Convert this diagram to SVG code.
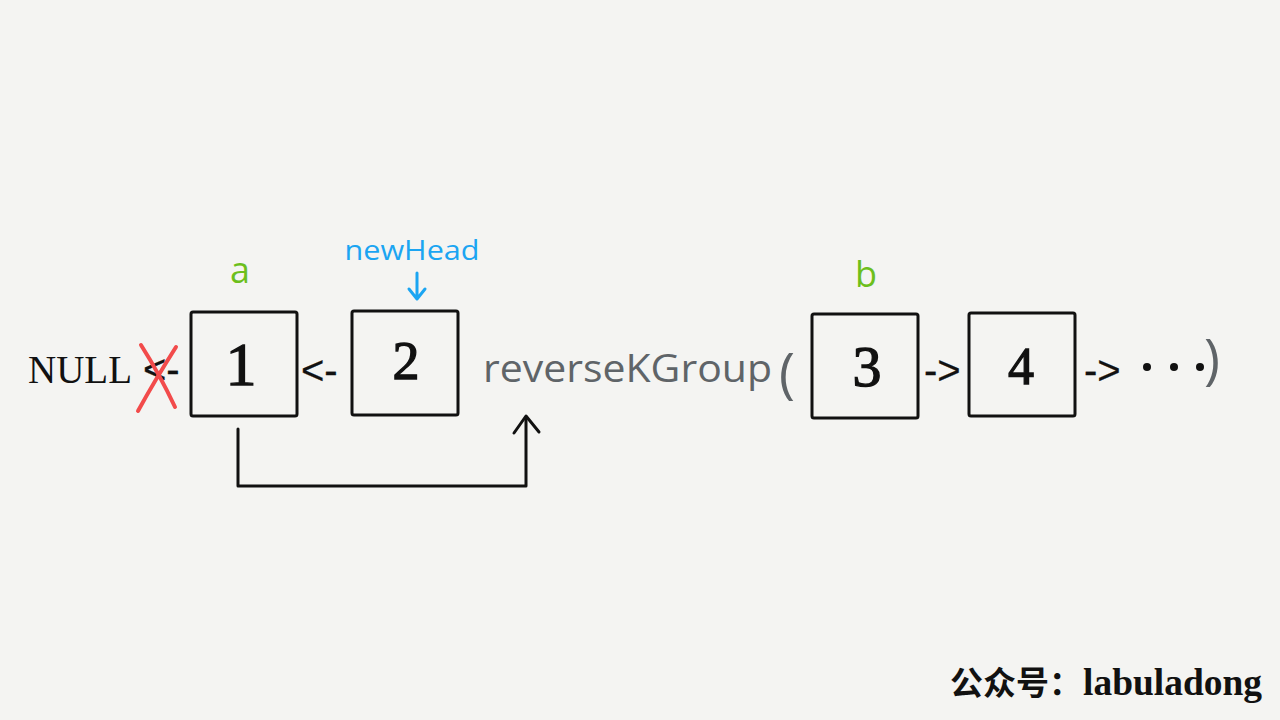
<svg xmlns="http://www.w3.org/2000/svg" width="1280" height="720" viewBox="0 0 1280 720">
<defs>
<style>
.box{fill:none;stroke:#111;stroke-width:3;}
.digit{font-family:"Liberation Serif","DejaVu Serif",serif;fill:#111;stroke:#111;stroke-width:1.3;text-anchor:middle;}
.op{font-family:"Liberation Sans","DejaVu Sans",sans-serif;font-size:40px;fill:#111;stroke:#111;stroke-width:0.3;}
.lbl{font-family:"Open Sans","Noto Sans",sans-serif;fill:#6cbf1c;text-anchor:middle;}
.gray{font-family:"Open Sans","Noto Sans",sans-serif;fill:#5f6468;}
.conn{fill:none;stroke:#111;stroke-width:3;stroke-linecap:round;stroke-linejoin:round;}
</style>
</defs>
<rect width="1280" height="720" fill="#f4f4f2"/>

<g id="null">
<text x="28" y="383" font-family="Liberation Serif, serif" font-size="40" fill="#111" textLength="104" lengthAdjust="spacingAndGlyphs">NULL</text>
<text x="143" y="383" class="op">&lt;-</text>
<path d="M141 345 Q160 375 175 407 M176 347 Q155 380 138 411" fill="none" stroke="#f24b4b" stroke-width="4" stroke-linecap="round"/>
</g>

<g id="node1">
<rect x="191" y="312" width="106" height="104" rx="2" class="box"/>
<text x="241" y="385" class="digit" font-size="62">1</text>
</g>
<text x="301" y="384" class="op">&lt;-</text>

<g id="node2">
<rect x="352" y="311" width="106" height="104" rx="2" class="box"/>
<text x="406" y="379" class="digit" font-size="54">2</text>
</g>

<g id="label-a"><text x="240" y="283" class="lbl" font-size="36">a</text></g>
<g id="label-newHead">
<text x="412" y="260" font-family="Open Sans, Noto Sans, sans-serif" font-size="28" fill="#1ba5f2" text-anchor="middle" textLength="135" lengthAdjust="spacingAndGlyphs">newHead</text>
<path d="M417 273 V298 M409 289 L417 299 L425 289" fill="none" stroke="#1ba5f2" stroke-width="3" stroke-linecap="round" stroke-linejoin="round"/>
</g>

<g id="reverse">
<text x="483" y="382" class="gray" font-size="38" textLength="289" lengthAdjust="spacingAndGlyphs">reverseKGroup</text>
<text x="779" y="392" class="gray" font-size="54" fill="#6a6e72">(</text>
</g>

<g id="node3">
<rect x="812" y="314" width="106" height="104" rx="2" class="box"/>
<text x="867" y="386" class="digit" font-size="58">3</text>
</g>
<text x="924" y="384" class="op">-&gt;</text>

<g id="node4">
<rect x="969" y="313" width="106" height="103" rx="2" class="box"/>
<text x="1021" y="384" class="digit" font-size="52">4</text>
</g>
<text x="1084" y="384" class="op">-&gt;</text>

<g id="tail">
<circle cx="1147" cy="367" r="4" fill="#111"/>
<circle cx="1174" cy="367" r="4" fill="#111"/>
<circle cx="1200" cy="367" r="4" fill="#111"/>
<text x="1204" y="378" class="gray" font-size="54" fill="#6a6e72">)</text>
</g>

<g id="label-b"><text x="866" y="287" class="lbl" font-size="36">b</text></g>

<g id="connectors">
<path d="M238 429 V486 H526 V417" class="conn"/>
<path d="M514 433 L526 416 L539 432" class="conn"/>
</g>

<g id="footer">
<text x="950" y="695" font-family="Noto Sans CJK SC, sans-serif" font-weight="bold" font-size="33" fill="#111">公众号：</text>
<text x="1083" y="695" font-family="Liberation Serif, serif" font-weight="bold" font-size="38" fill="#111" textLength="179" lengthAdjust="spacingAndGlyphs">labuladong</text>
</g>
</svg>
